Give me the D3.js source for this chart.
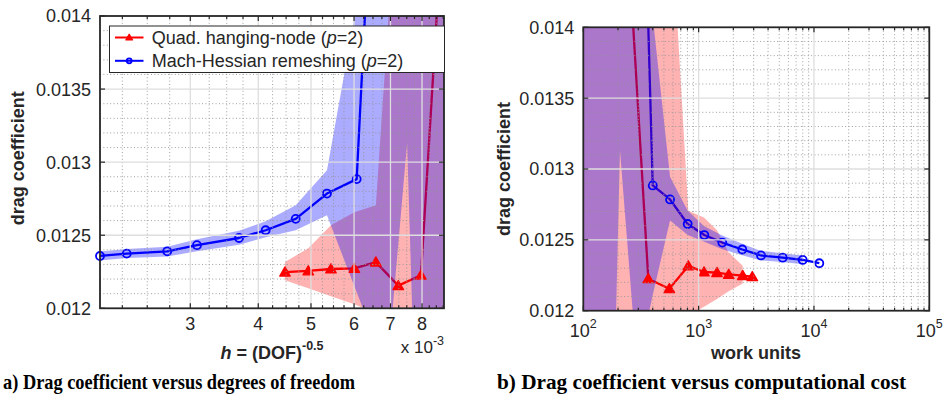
<!DOCTYPE html>
<html>
<head>
<meta charset="utf-8">
<script src="https://cdn.jsdelivr.net/npm/d3@7"></script>
<style>
  body { margin: 0; background: #fff; }
  svg { display: block; }
  text { font-family: "Liberation Sans", Arial, Helvetica, sans-serif; fill: #262626; }
  .caption { font-family: "Liberation Serif", "Times New Roman", serif; font-weight: bold; fill: #000; }
</style>
</head>
<body>
<svg id="fig" width="943" height="402"></svg>
<script>
// ---- Drag coefficient convergence data (coarsest level first) ----
// Quad. hanging-node refinement, p = 2
const hnH    = [10.4e-3, 9.5e-3, 8.78e-3, 7.964e-3, 7.236e-3, 6.58e-3, 6.006e-3, 5.441e-3, 4.943e-3, 4.479e-3, null];
const hnWork = [90, 150, 236, 366, 557, 814, 1113, 1443, 1823, 2411, 2920];
const hnCd   = [0.0170, 0.0160, 0.01482, 0.012226, 0.012155, 0.012316, 0.012273, 0.012269, 0.012256, 0.012248, 0.012240];
const hnLo   = [0.0105, 0.0105, 0.0105, 0.0110, 0.0110, 0.011966, 0.012027, 0.012082, 0.012137, 0.012192, null];
const hnHi   = [0.0180, 0.0175, 0.0165, 0.0160, 0.0150, 0.012705, 0.012658, 0.012568, 0.012411, 0.012317, null];

// Mach-Hessian remeshing, p = 2
const mhH    = [9.2e-3, 7.70e-3, 7.51e-3, 6.99e-3, 6.38e-3, 6.067e-3, 5.350e-3, 4.687e-3, 4.127e-3, 3.687e-3, 3.086e-3, 2.721e-3, 2.292e-3, 2.047e-3, null];
const mhWork = [90, 190, 208, 280, 352, 400, 565, 804, 1120, 1604, 2391, 3474, 5356, 7987, 11125];
const mhCd   = [0.0165, 0.0158, 0.0155, 0.0150, 0.0145, 0.012884, 0.012785, 0.012612, 0.012534, 0.012481, 0.012432, 0.012390, 0.012374, 0.012358, 0.012335];
const mhLo   = [0.0118, 0.0118, 0.01313, 0.0118, 0.0119, 0.012110, 0.012637, 0.012534, 0.012486, 0.012434, 0.012391, 0.012354, 0.012344, 0.012327, null];
const mhHi   = [0.0175, 0.0175, 0.0175, 0.0175, 0.0175, 0.014075, 0.012945, 0.012705, 0.012596, 0.012530, 0.012473, 0.012422, 0.012406, 0.012389, null];

// ---- Axis ticks ----
const cdTicks      = [0.012, 0.0125, 0.013, 0.0135, 0.014];
const cdTickLabels = ["0.012", "0.0125", "0.013", "0.0135", "0.014"];
const hTicks       = [3e-3, 4e-3, 5e-3, 6e-3, 7e-3, 8e-3];
const hTickLabels  = ["3", "4", "5", "6", "7", "8"];
const workTicks    = [1e2, 1e3, 1e4, 1e5];
const workTickExps = ["2", "3", "4", "5"];

const series = [
  { label: "Quad. hanging-node", color: "#ff0000", marker: "triangle", bandOpacity: 0.30,
    h: hnH, work: hnWork, cd: hnCd, lo: hnLo, hi: hnHi },
  { label: "Mach-Hessian remeshing", color: "#0000ff", marker: "circle", bandOpacity: 0.33,
    h: mhH, work: mhWork, cd: mhCd, lo: mhLo, hi: mhHi }
];

const AX = "#262626";
const svg = d3.select("#fig");
svg.append("rect").attr("width", 943).attr("height", 402).attr("fill", "#fff");
const defs = svg.append("defs");

// minor tick positions
const hMinor = d3.range(2, 9, 0.25).filter(v => v % 1 !== 0).map(v => v * 1e-3);
const workMinor = [];
[1e2, 1e3, 1e4].forEach(dec => d3.range(2, 10).forEach(m => workMinor.push(m * dec)));
const cdMinor = d3.range(121, 140).filter(v => v % 5 !== 0).map(v => v / 10000);

function drawMarker(sel, s, cx, cy, scale) {
  if (s.marker === "circle") {
    sel.append("circle").attr("cx", cx).attr("cy", cy).attr("r", 4 * scale)
      .attr("fill", "none").attr("stroke", s.color).attr("stroke-width", 1.8);
  } else {
    sel.append("path")
      .attr("d", d3.symbol(d3.symbolTriangle, 48 * scale * scale)())
      .attr("transform", `translate(${cx},${cy + 0.9 * scale})`)
      .attr("fill", s.color).attr("stroke", s.color).attr("stroke-width", 1.3)
      .attr("stroke-linejoin", "round");
  }
}

function drawPanel(p) {
  const x = d3.scaleLog().domain(p.xDomain).range([p.left, p.right]);
  const y = d3.scaleLinear().domain([cdTicks[0], cdTicks[cdTicks.length - 1]]).range([p.bottom, p.top]);
  const g = svg.append("g");

  defs.append("clipPath").attr("id", "clip-" + p.key).append("rect")
    .attr("x", p.left).attr("y", p.top)
    .attr("width", p.right - p.left).attr("height", p.bottom - p.top);
  const plot = g.append("g").attr("clip-path", `url(#clip-${p.key})`);

  const rows = s => s.cd.map((c, i) => ({ x: s[p.xField][i], cd: c, lo: s.lo[i], hi: s.hi[i] }))
                        .filter(d => d.x != null);

  // curves
  series.forEach(s => {
    plot.append("path")
      .attr("d", d3.line().x(d => x(d.x)).y(d => y(d.cd))(rows(s)))
      .attr("fill", "none").attr("stroke", s.color).attr("stroke-width", 2.3)
      .attr("stroke-linejoin", "round");
  });
  // markers for points inside the axes
  series.forEach(s => {
    const mg = g.append("g");
    rows(s).filter(d => d.x >= p.xDomain[0] && d.x <= p.xDomain[1] && d.cd >= y.domain()[0] && d.cd <= y.domain()[1])
      .forEach(d => drawMarker(mg, s, x(d.x), y(d.cd), 1));
  });
  // uncertainty bands, laid over the curves
  series.forEach(s => {
    plot.append("path")
      .attr("d", d3.area().x(d => x(d.x)).y0(d => y(d.lo)).y1(d => y(d.hi))(rows(s).filter(d => d.lo != null)))
      .attr("fill", s.color).attr("fill-opacity", s.bandOpacity);
  });

  // grid on top of the data
  const grid = g.append("g");
  p.xMinor.filter(v => v > p.xDomain[0] && v < p.xDomain[1]).forEach(v => {
    grid.append("line").attr("x1", x(v)).attr("x2", x(v)).attr("y1", p.top).attr("y2", p.bottom)
      .attr("stroke", "#959595").attr("stroke-width", 0.9).attr("stroke-dasharray", "1,2.4");
  });
  cdMinor.forEach(v => {
    grid.append("line").attr("y1", y(v)).attr("y2", y(v)).attr("x1", p.left).attr("x2", p.right)
      .attr("stroke", "#959595").attr("stroke-width", 0.9).attr("stroke-dasharray", "1,2.4");
  });
  p.xMajor.filter(v => v > p.xDomain[0] && v < p.xDomain[1]).forEach(v => {
    grid.append("line").attr("x1", x(v)).attr("x2", x(v)).attr("y1", p.top).attr("y2", p.bottom)
      .attr("stroke", "#dedede").attr("stroke-width", 1.3);
  });
  cdTicks.slice(1, -1).forEach(v => {
    grid.append("line").attr("y1", y(v)).attr("y2", y(v)).attr("x1", p.left).attr("x2", p.right)
      .attr("stroke", "#dedede").attr("stroke-width", 1.3);
  });

  // ticks (inward, all four sides)
  const ticks = g.append("g").attr("stroke", AX).attr("stroke-width", 1.2);
  const xt = (v, len) => {
    ticks.append("line").attr("x1", x(v)).attr("x2", x(v)).attr("y1", p.bottom).attr("y2", p.bottom - len);
    ticks.append("line").attr("x1", x(v)).attr("x2", x(v)).attr("y1", p.top).attr("y2", p.top + len);
  };
  p.xMinor.filter(v => v > p.xDomain[0] && v < p.xDomain[1]).forEach(v => xt(v, 3));
  p.xMajor.filter(v => v >= p.xDomain[0] && v <= p.xDomain[1]).forEach(v => xt(v, 5));
  cdTicks.forEach(v => {
    ticks.append("line").attr("x1", p.left).attr("x2", p.left + 5).attr("y1", y(v)).attr("y2", y(v));
    ticks.append("line").attr("x1", p.right).attr("x2", p.right - 5).attr("y1", y(v)).attr("y2", y(v));
  });

  // box
  g.append("rect").attr("x", p.left).attr("y", p.top)
    .attr("width", p.right - p.left).attr("height", p.bottom - p.top)
    .attr("fill", "none").attr("stroke", AX).attr("stroke-width", 1.8);

  // y tick labels
  cdTicks.forEach((v, i) => {
    g.append("text").attr("x", p.left - 9).attr("y", y(v)).attr("dy", "0.36em")
      .attr("text-anchor", "end").attr("font-size", 18).text(cdTickLabels[i]);
  });

  // y label
  g.append("text")
    .attr("transform", `translate(${p.yLabelX},${(p.top + p.bottom) / 2 - p.yLabelShift}) rotate(-90)`)
    .attr("text-anchor", "middle").attr("font-size", 18).attr("font-weight", "bold")
    .text("drag coefficient");

  return { x, y, g };
}

// ---- Panel a: drag coefficient versus mesh size ----
const a = drawPanel({
  key: "a", left: 100, right: 444, top: 16, bottom: 308.3,
  xDomain: [2.047e-3, 8.78e-3], xField: "h",
  xMajor: hTicks, xMinor: hMinor, yLabelX: 24, yLabelShift: 4
});
hTicks.forEach((v, i) => {
  a.g.append("text").attr("x", a.x(v)).attr("y", 330).attr("text-anchor", "middle")
    .attr("font-size", 18).text(hTickLabels[i]);
});
const expA = a.g.append("text").attr("x", 444).attr("y", 353).attr("text-anchor", "end").attr("font-size", 17);
expA.append("tspan").text("x 10");
expA.append("tspan").attr("dy", -8).attr("font-size", 12.5).text("-3");

const hLabel = a.g.append("text").attr("x", 272).attr("y", 359).attr("text-anchor", "middle")
  .attr("font-size", 18).attr("font-weight", "bold");
hLabel.append("tspan").attr("font-style", "italic").text("h");
hLabel.append("tspan").text(" = (DOF)");
hLabel.append("tspan").attr("dy", -9).attr("font-size", 12.5).text("-0.5");

// legend
const leg = svg.append("g");
leg.append("rect").attr("x", 109.5).attr("y", 26).attr("width", 335).attr("height", 46.5)
  .attr("fill", "#fff").attr("stroke", AX).attr("stroke-width", 1);
series.forEach((s, i) => {
  const cy = 37.5 + i * 23.3;
  leg.append("line").attr("x1", 115).attr("x2", 143.5).attr("y1", cy).attr("y2", cy)
    .attr("stroke", s.color).attr("stroke-width", 2);
  drawMarker(leg, s, 129.2, cy, 0.62);
  const t = leg.append("text").attr("x", 151.7).attr("y", cy).attr("dy", "0.36em").attr("font-size", 18);
  t.append("tspan").text(s.label + " (");
  t.append("tspan").attr("font-style", "italic").text("p");
  t.append("tspan").text("=2)");
});

// ---- Panel b: drag coefficient versus computational work ----
const b = drawPanel({
  key: "b", left: 583.3, right: 929.3, top: 27.3, bottom: 310.7,
  xDomain: [1e2, 1e5], xField: "work",
  xMajor: workTicks, xMinor: workMinor, yLabelX: 510, yLabelShift: 0
});
workTicks.forEach((v, i) => {
  const t = b.g.append("text").attr("x", b.x(v)).attr("y", 336.5).attr("text-anchor", "middle").attr("font-size", 18);
  t.append("tspan").text("10");
  t.append("tspan").attr("dy", -9).attr("font-size", 12.5).text(workTickExps[i]);
});
b.g.append("text").attr("x", 756).attr("y", 359).attr("text-anchor", "middle")
  .attr("font-size", 18).attr("font-weight", "bold").text("work units");

// ---- captions ----
svg.append("text").attr("class", "caption").attr("x", 3).attr("y", 389).attr("font-size", 21)
  .attr("textLength", 352).attr("lengthAdjust", "spacingAndGlyphs")
  .text("a) Drag coefficient versus degrees of freedom");
svg.append("text").attr("class", "caption").attr("x", 497).attr("y", 389).attr("font-size", 21)
  .attr("textLength", 409).attr("lengthAdjust", "spacingAndGlyphs")
  .text("b) Drag coefficient versus computational cost");
</script>
</body>
</html>
